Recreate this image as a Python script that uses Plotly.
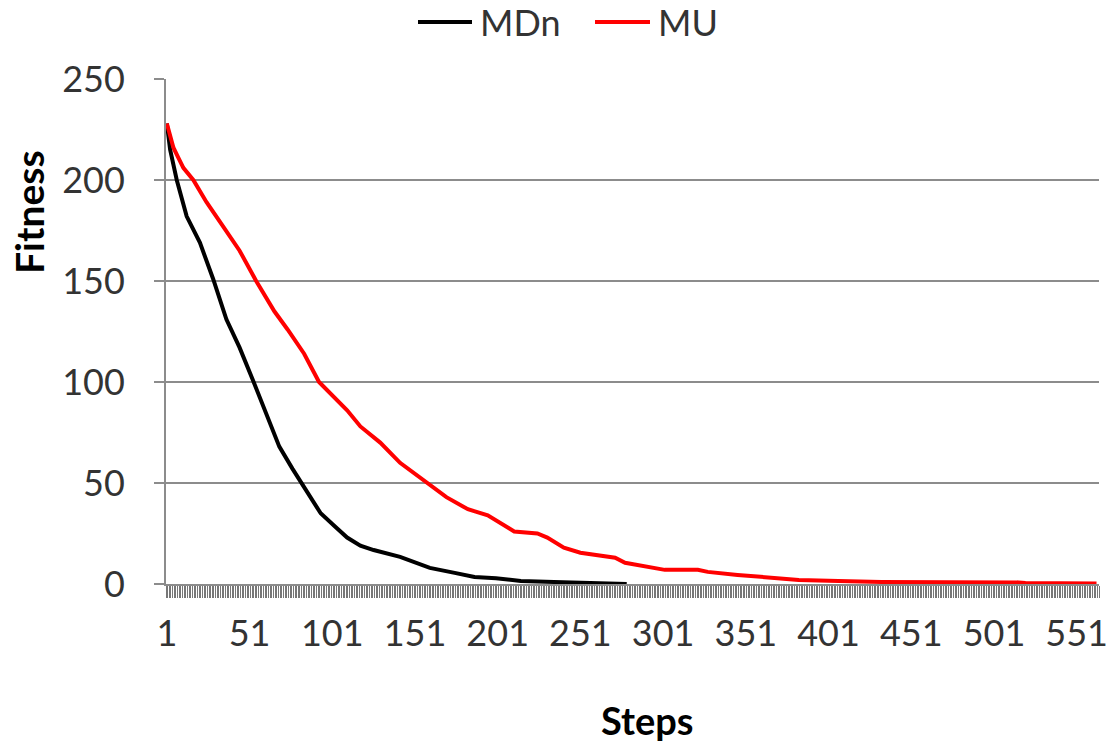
import plotly.graph_objects as go

# ---- data ----
mdn_steps = [1, 3, 7, 13, 21, 29, 37, 45, 53, 61, 69, 77, 84, 94, 102, 110, 118, 126,
             142, 160, 175, 187, 200, 215, 235, 251, 265, 279]
mdn_fit = [228, 215, 200, 182, 169, 151, 131, 117, 101, 84, 68, 57, 48, 35, 29, 23, 19,
           16.8, 13.4, 8, 5.5, 3.5, 2.8, 1.5, 1, 0.5, 0.3, 0]

mu_steps = [1, 3, 5, 8, 11, 17, 25, 35, 45, 55, 66, 74, 84, 93, 110, 118, 130, 142, 158,
            170, 183, 195, 211, 225, 231, 241, 251, 262, 272, 278, 292, 302, 322, 328,
            346, 366, 383, 407, 433, 516, 520, 563]
mu_fit = [228, 222, 216, 211, 206, 200, 189, 177, 165, 150, 135, 126, 114, 100, 86, 78,
          70, 60, 50, 43, 37, 34, 26, 25, 23, 18, 15.5, 14, 13, 10.5, 8.5, 7, 7, 6, 4.5,
          3, 2, 1.5, 1, 0.8, 0.5, 0.2]

series_names = ["MDn", "MU"]
series_colors = ["#000000", "#ff0000"]

x_tick_vals = [1, 51, 101, 151, 201, 251, 301, 351, 401, 451, 501, 551]
x_tick_text = ["1", "51", "101", "151", "201", "251", "301", "351", "401", "451", "501", "551"]
y_tick_vals = [0, 50, 100, 150, 200, 250]
n_steps = 564

FONT = "Lato"
GRID = "#8c8c8c"
L, R, T, B = 166, 15, 79, 158
PW, PH = 1114 - L - R, 742 - T - B


def px_x(p):
    return (p - L) / PW


def px_y(p):
    return (742 - B - p) / PH


fig = go.Figure()
for xs, ys, nm, col in [(mdn_steps, mdn_fit, series_names[0], series_colors[0]),
                        (mu_steps, mu_fit, series_names[1], series_colors[1])]:
    fig.add_trace(go.Scatter(x=xs, y=ys, mode="lines", name=nm, showlegend=False,
                             line=dict(color=col, width=4)))

fig.update_layout(
    width=1114, height=742,
    margin=dict(l=L, r=R, t=T, b=B, autoexpand=False),
    paper_bgcolor="white", plot_bgcolor="white",
    font=dict(family=FONT, size=36, color="#333333"),
    showlegend=False,
    xaxis=dict(range=[0.5, n_steps + 0.5], tickmode="array", tickvals=x_tick_vals,
               ticktext=x_tick_text, ticks="", showgrid=False, zeroline=False,
               showline=True, linecolor=GRID, linewidth=2,
               ticklabelstandoff=17,
               minor=dict(ticks="outside", tick0=0.5, dtick=1, ticklen=12,
                          tickcolor="#777777", tickwidth=1, showgrid=False),
               tickfont=dict(family=FONT, size=36, color="#333333")),
    yaxis=dict(range=[0, 250], tickmode="array", tickvals=y_tick_vals,
               ticks="outside", ticklen=10, tickcolor=GRID, tickwidth=2,
               showgrid=True, gridcolor=GRID, gridwidth=2, zeroline=False,
               showline=True, linecolor=GRID, linewidth=2,
               ticklabelstandoff=22,
               tickfont=dict(family=FONT, size=36, color="#333333")),
)

# legend (drawn manually to match the long Excel legend keys)
legend_items = [(418, 472, 478), (595, 650, 656)]
for (x0, x1, xt), nm, col in zip(legend_items, series_names, series_colors):
    fig.add_shape(type="line", xref="paper", yref="paper",
                  x0=px_x(x0), x1=px_x(x1), y0=px_y(22), y1=px_y(22),
                  line=dict(color=col, width=4))
    fig.add_annotation(text=nm, xref="paper", yref="paper", x=px_x(xt), y=px_y(22),
                       xanchor="left", yanchor="middle", showarrow=False,
                       font=dict(family=FONT, size=36, color="#333333"))

fig.add_annotation(text="<b>Fitness</b>", xref="paper", yref="paper",
                   x=px_x(29), y=px_y(212), textangle=-90,
                   xanchor="center", yanchor="middle",
                   showarrow=False, font=dict(family=FONT, size=39, color="#000000"))
fig.add_annotation(text="<b>Steps</b>", xref="paper", yref="paper",
                   x=px_x(647), y=px_y(720), xanchor="center", yanchor="middle",
                   showarrow=False, font=dict(family=FONT, size=38, color="#000000"))

fig.write_html("out.html")
